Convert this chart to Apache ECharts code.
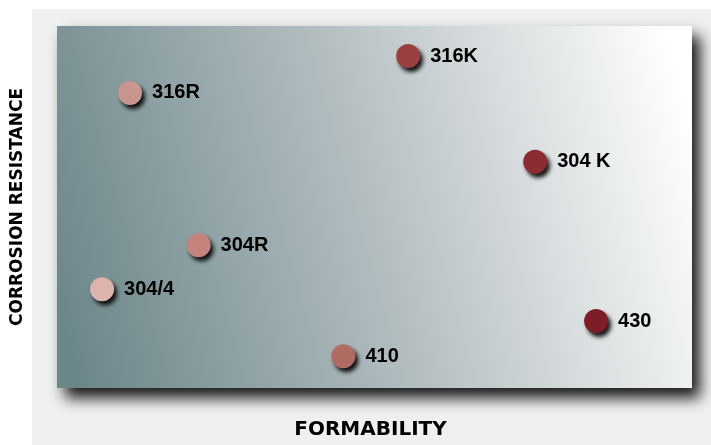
<!DOCTYPE html>
<html>
<head>
<meta charset="utf-8">
<script src="https://cdn.jsdelivr.net/npm/echarts@6/dist/echarts.min.js"></script>
<style>
html,body{margin:0;padding:0;background:#ffffff;}
#panel{position:absolute;left:32px;top:9px;width:679px;height:436px;background:#eff1f0;}
#chart{position:absolute;left:0;top:0;width:711px;height:445px;}
</style>
</head>
<body>
<div id="panel"></div>
<div id="chart"></div>
<script>
const grades = ['316R', '316K', '304 K', '304R', '304/4', '410', '430'];
const formability = [11.5, 55.3, 75.3, 22.3, 7.1, 45.1, 84.9];
const corrosion = [81.5, 91.7, 62.5, 39.4, 27.3, 8.8, 18.5];
const colors = ['#c9968f', '#9a4040', '#8b2c32', '#c4837d', '#dcb3ad', '#b06b63', '#7d1d26'];

const chart = echarts.init(document.getElementById('chart'), null, {renderer: 'canvas'});
const data = grades.map((g, i) => ({
  value: [formability[i], corrosion[i]],
  name: g,
  itemStyle: {color: colors[i]}
}));
chart.setOption({
  animation: false,
  grid: {
    left: 57, top: 26, right: 19, bottom: 56,
    show: true,
    borderWidth: 0,
    backgroundColor: new echarts.graphic.LinearGradient(0, 0.75, 1, 0.25, [
      {offset: 0, color: '#6c878a'},
      {offset: 0.5, color: '#b5bfc2'},
      {offset: 1, color: '#ffffff'}
    ]),
    shadowBlur: 14,
    shadowColor: 'rgba(0,0,0,0.9)',
    shadowOffsetX: 8,
    shadowOffsetY: 10
  },
  xAxis: {
    type: 'value', min: 0, max: 100,
    name: 'FORMABILITY',
    nameLocation: 'middle',
    nameGap: 32,
    nameTextStyle: {fontFamily: 'DejaVu Sans', fontWeight: 'bold', fontSize: 20, color: '#000', padding: [0, 8, 0, 0]},
    axisLine: {show: false}, axisTick: {show: false}, axisLabel: {show: false}, splitLine: {show: false}
  },
  yAxis: {
    type: 'value', min: 0, max: 100,
    name: 'CORROSION RESISTANCE',
    nameLocation: 'middle',
    nameGap: 31,
    nameTextStyle: {fontFamily: 'DejaVu Sans', fontWeight: 'bold', fontSize: 17, color: '#000'},
    axisLine: {show: false}, axisTick: {show: false}, axisLabel: {show: false}, splitLine: {show: false}
  },
  series: [{
    type: 'scatter',
    symbol: 'circle',
    symbolSize: 24,
    data: data,
    itemStyle: {
      opacity: 1,
      shadowBlur: 4,
      shadowColor: 'rgba(0,0,0,0.9)',
      shadowOffsetX: 3,
      shadowOffsetY: 4
    },
    label: {
      show: true,
      position: 'right',
      distance: 10,
      formatter: '{b}',
      fontFamily: 'Liberation Sans',
      fontWeight: 'bold',
      fontSize: 20,
      color: '#000000',
      opacity: 1
    }
  }]
});
</script>
</body>
</html>
